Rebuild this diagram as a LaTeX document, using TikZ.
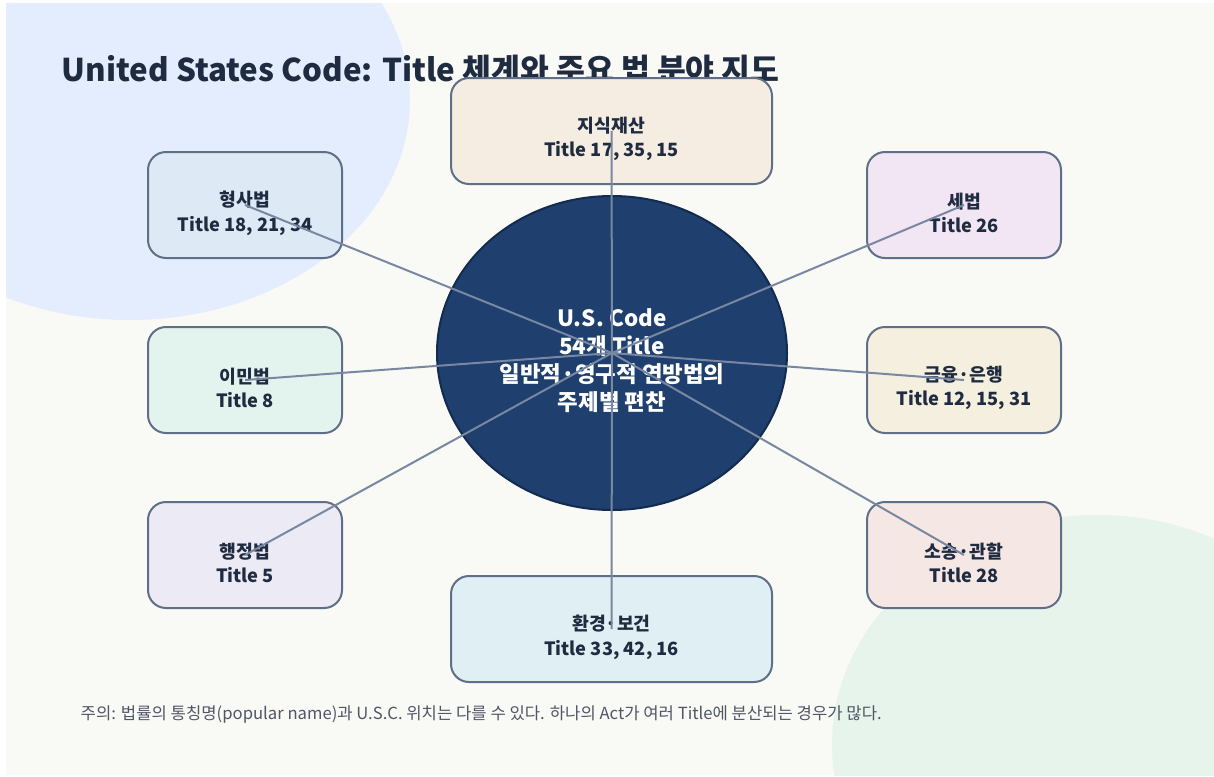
\documentclass[tikz,border=0pt]{standalone}
\usepackage{fontspec}
\setmainfont{Noto Sans CJK KR}
\usetikzlibrary{shapes.geometric}
\definecolor{bgc}{HTML}{F9F9F5}
\definecolor{blobblue}{HTML}{E3EDFD}
\definecolor{blobgreen}{HTML}{E6F4EC}
\definecolor{ink}{HTML}{1F2B40}
\definecolor{edgec}{HTML}{5F6F87}
\definecolor{linkc}{HTML}{7888A2}
\definecolor{corefill}{HTML}{1F3F6E}
\definecolor{coreedge}{HTML}{132B50}
\definecolor{noteink}{HTML}{4F5666}
\definecolor{fIP}{HTML}{F5EDE1}
\definecolor{fCrim}{HTML}{DDE9F5}
\definecolor{fTax}{HTML}{F2E5F4}
\definecolor{fImm}{HTML}{E3F4EE}
\definecolor{fFin}{HTML}{F5EFDF}
\definecolor{fAdm}{HTML}{EBEAF5}
\definecolor{fLit}{HTML}{F5E8E4}
\definecolor{fEnv}{HTML}{E0EFF4}
\tikzset{
  areabox/.style={draw=edgec, line width=1.5pt, rounded corners=13.5pt,
    minimum width=145.5pt, minimum height=79.5pt},
  widebox/.style={areabox, minimum width=240.75pt},
  boxtext/.style={align=center, text=ink, font={\fontsize{13.7}{18.5}\selectfont\bfseries}},
  link/.style={draw=linkc, line width=1.5pt},
}
\begin{document}
\begin{tikzpicture}[x=0.75pt,y=-0.75pt]
\useasboundingbox (0,0) rectangle (1214,776);
\fill[white] (0,0) rectangle (1214,776);
\fill[bgc] (6,3) rectangle (1214,775);
\begin{scope}
\clip (6,3) rectangle (1214,775);
\fill[blobblue] (130,100) ellipse [x radius=280, y radius=220];
\fill[blobgreen] (1097,745) ellipse [x radius=265, y radius=230];
\end{scope}
\node[anchor=base west, text=ink, font={\fontsize{23.5}{28}\selectfont\bfseries}] (title) at (57,81)
  {United States Code: Title 체계와 주요 법 분야 지도};
\node[widebox, fill=fIP] (ip) at (611.5,131) {};
\node[areabox, fill=fCrim] (crim) at (245,205) {};
\node[areabox, fill=fTax] (tax) at (964,205) {};
\node[areabox, fill=fImm] (imm) at (245,380) {};
\node[areabox, fill=fFin] (fin) at (964,380) {};
\node[areabox, fill=fAdm] (adm) at (245,555) {};
\node[areabox, fill=fLit] (lit) at (964,555) {};
\node[widebox, fill=fEnv] (env) at (611.5,629) {};
\node[boxtext] (ipT) at (611.5,139) {지식재산\\Title 17, 35, 15};
\node[boxtext] (crimT) at (245,213) {형사법\\Title 18, 21, 34};
\node[boxtext] (taxT) at (964,213) {세법\\Title 26};
\node[boxtext] (immT) at (245,388) {이민법\\Title 8};
\node[boxtext] (finT) at (964,388) {금융·은행\\Title 12, 15, 31};
\node[boxtext] (admT) at (245,563) {행정법\\Title 5};
\node[boxtext] (litT) at (964,563) {소송·관할\\Title 28};
\node[boxtext] (envT) at (611.5,637) {환경·보건\\Title 33, 42, 16};
\node[ellipse, draw=coreedge, line width=1.5pt, fill=corefill, minimum width=262.5pt, minimum height=235.5pt,
  inner sep=0pt] (core) at (612,353) {};
\node[align=center, text=white, font={\fontsize{16.8}{21}\selectfont\bfseries}] (coretext) at (612,361)
  {U.S. Code\\54개 Title\\일반적·영구적 연방법의\\주제별 편찬};
\foreach \b in {ip,crim,tax,imm,fin,adm,lit,env}
  \draw[link] (core.center) -- (\b.center);
\node[anchor=base west, text=noteink, font={\fontsize{12.5}{15}\selectfont}] (note) at (76,719)
  {주의: 법률의 통칭명(popular name)과 U.S.C. 위치는 다를 수 있다. 하나의 Act가 여러 Title에 분산되는 경우가 많다.};
\end{tikzpicture}
\end{document}
